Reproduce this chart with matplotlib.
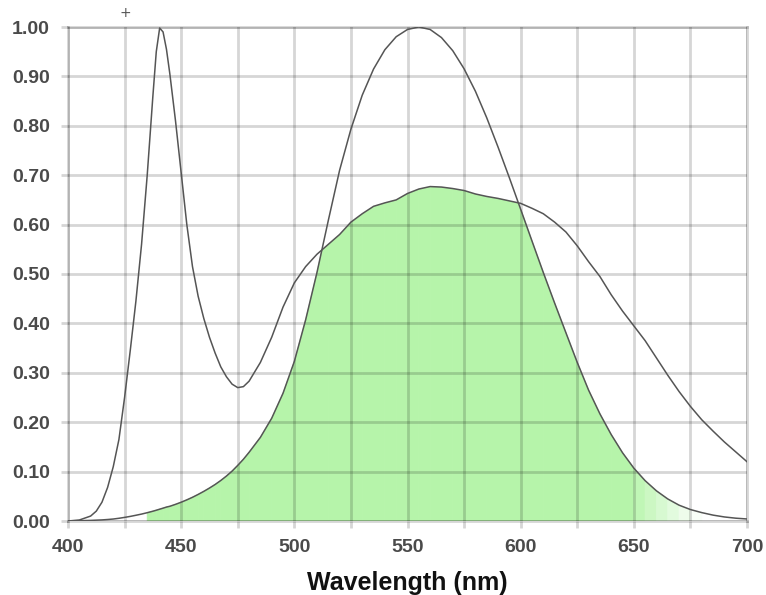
import numpy as np
import matplotlib
matplotlib.use("Agg")
import matplotlib.pyplot as plt
from matplotlib.collections import PolyCollection
from matplotlib.path import Path

# ---- data ----
wavelength = [400, 405, 410, 412.5, 415, 417.5, 420, 422.5, 425, 427.5, 430, 432.5,
              435, 437.5, 439, 440.5, 442, 443.5, 445, 447.5, 450, 452.5, 455, 457.5,
              460, 462.5, 465, 467.5, 470, 472.5, 475, 477.5, 480, 485, 490, 495, 500,
              505, 510, 515, 520, 525, 530, 535, 540, 545, 550, 555, 560, 565, 570,
              575, 580, 585, 590, 595, 600, 605, 610, 615, 620, 625, 630, 635, 640,
              645, 650, 655, 660, 665, 670, 675, 680, 685, 690, 695, 700]

led_spectrum = [0.000, 0.002, 0.010, 0.020, 0.038, 0.068, 0.110, 0.165, 0.250, 0.345,
                0.445, 0.560, 0.700, 0.860, 0.950, 0.998, 0.990, 0.955, 0.905, 0.810,
                0.705, 0.600, 0.515, 0.455, 0.410, 0.372, 0.340, 0.312, 0.292, 0.277,
                0.270, 0.272, 0.283, 0.321, 0.372, 0.433, 0.482, 0.515, 0.540, 0.560,
                0.580, 0.605, 0.622, 0.637, 0.644, 0.650, 0.663, 0.672, 0.677, 0.676,
                0.673, 0.669, 0.662, 0.657, 0.653, 0.648, 0.643, 0.633, 0.622, 0.605,
                0.585, 0.557, 0.525, 0.495, 0.458, 0.425, 0.395, 0.365, 0.330, 0.295,
                0.262, 0.232, 0.205, 0.182, 0.160, 0.140, 0.120]

eye_sensitivity = [0.0004, 0.0006, 0.0012, 0.0017, 0.0022, 0.0030, 0.0040, 0.0055,
                   0.0073, 0.0093, 0.0116, 0.0140, 0.0168, 0.0198, 0.0218, 0.0239,
                   0.0260, 0.0282, 0.0298, 0.0337, 0.0380, 0.0428, 0.0480, 0.0538,
                   0.0600, 0.0667, 0.0739, 0.0820, 0.0910, 0.1010, 0.1126, 0.1250,
                   0.1390, 0.1693, 0.2080, 0.2586, 0.3230, 0.4073, 0.5030, 0.6082,
                   0.7100, 0.7932, 0.8620, 0.9149, 0.9540, 0.9803, 0.9950, 1.0000,
                   0.9950, 0.9786, 0.9520, 0.9154, 0.8700, 0.8163, 0.7570, 0.6949,
                   0.6310, 0.5668, 0.5030, 0.4412, 0.3810, 0.3210, 0.2650, 0.2170,
                   0.1750, 0.1382, 0.1070, 0.0816, 0.0610, 0.0446, 0.0320, 0.0232,
                   0.0170, 0.0119, 0.0082, 0.0057, 0.0041]

x_ticks = [400, 450, 500, 550, 600, 650, 700]
y_ticks = [0.0, 0.1, 0.2, 0.3, 0.4, 0.5, 0.6, 0.7, 0.8, 0.9, 1.0]
fill_start, fill_end = 435, 680
fade_start = 648

# ---- figure ----
fig = plt.figure(figsize=(7.66, 5.95), dpi=100)
ax = fig.add_axes([68 / 766, 1 - 521 / 595, (747 - 68) / 766, (521 - 27) / 595])

wl = np.array(wavelength, dtype=float)
led = np.array(led_spectrum)
eye = np.array(eye_sensitivity)
mask = (wl >= fill_start) & (wl <= fill_end)
xs, ys = wl[mask], eye[mask]

# green area under both curves, fading to white at the red end:
# strips under the eye-sensitivity curve, clipped to the area under the LED curve
green = np.array([182, 244, 170]) / 255.0
white = np.ones(3)
verts, cols = [], []
for i in range(len(xs) - 1):
    verts.append([(xs[i], 0), (xs[i], ys[i]), (xs[i + 1], ys[i + 1]), (xs[i + 1], 0)])
    mid = 0.5 * (xs[i] + xs[i + 1])
    t = np.clip((fill_end - mid) / (fill_end - fade_start), 0, 1)
    cols.append(white * (1 - t) + green * t)
pc = PolyCollection(verts, facecolors=cols, edgecolors=cols, linewidths=0.6, zorder=1)
ax.add_collection(pc)
led_area = Path([(wl[0], 0)] + list(zip(wl, led)) + [(wl[-1], 0), (wl[0], 0)])
pc.set_clip_path(led_area, ax.transData)

ax.plot(wl, led, color="#555555", lw=1.1, zorder=3)
ax.plot(wl, eye, color="#555555", lw=1.1, zorder=3)

ax.set_xlim(400, 700)
ax.set_ylim(0, 1.0)
ax.set_xticks(x_ticks)
ax.set_xticks(np.arange(400, 701, 25), minor=True)
ax.set_yticks(y_ticks)
ax.set_yticklabels([f"{v:.2f}" for v in y_ticks])

ax.grid(True, which="both", color="black", alpha=0.16, lw=2.0)
for line in ax.get_xgridlines() + ax.get_ygridlines():
    line.set_zorder(2)
for sp in ax.spines.values():
    sp.set_color((0, 0, 0, 0.16))
    sp.set_linewidth(2.0)

ax.tick_params(axis="both", which="both", length=5, width=2.0,
               color=(0, 0, 0, 0.16), labelsize=14, labelcolor="#4a4a4a")
ax.tick_params(axis="x", pad=8)
ax.tick_params(axis="y", pad=8)
for lab in ax.get_xticklabels() + ax.get_yticklabels():
    lab.set_fontfamily("Liberation Sans")
    lab.set_fontweight("bold")

ax.set_xlabel("Wavelength (nm)", fontsize=18, fontweight="bold",
              fontfamily="Liberation Sans", color="#111111", labelpad=11)

fig.text(125 / 766, 1 - 13 / 595, "+", ha="center", va="center",
         fontsize=10, color="#555555")

fig.savefig("out.png", dpi=100)
